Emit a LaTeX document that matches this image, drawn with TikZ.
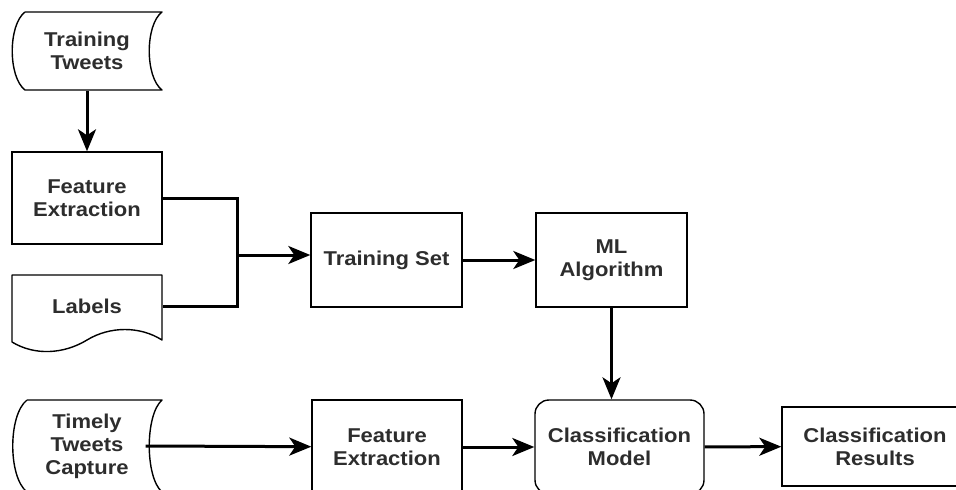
\documentclass[tikz,border=0pt]{standalone}
\usepackage{fontspec}
\setmainfont[FakeStretch=1.1]{Liberation Sans}
\usepackage{xcolor}
\usetikzlibrary{arrows.meta}
\usetikzlibrary{calc}
\definecolor{inkgray}{RGB}{45,45,45}
\tikzset{every edge/.style={draw, line width=3pt, -{Stealth[length=22pt,width=18pt,inset=6pt]}}}
\tikzset{blk/.style={draw, line width=1.4pt, minimum width=150pt, align=center, text=inkgray, font=\bfseries\fontsize{20}{23}\selectfont}}
\tikzset{bare/.style={blk, draw=none}}

\begin{document}
\begin{tikzpicture}[x=1pt, y=-1pt]
    \useasboundingbox (0,0) rectangle (956,490);
    \clip (0,0) rectangle (956,490);

    \node[bare, minimum height=78pt] at (87,51) (TT) {Training\\Tweets};
    \node[blk, minimum height=92pt] at (87,198) (FE1) {Feature\\Extraction};
    \node[bare, minimum height=62pt] at (87,306) (LB) {Labels};
    \node[blk, minimum width=151pt, minimum height=94pt] at (386.5,260) (TS) {Training Set};
    \node[blk, minimum width=151pt, minimum height=94pt] at (611.5,260) (ML) {ML\\Algorithm};
    \node[bare, minimum height=92pt] at (87,446) (TTC) {Timely\\Tweets\\Capture};
    \node[blk, minimum height=94pt] at (387,447) (FE2) {Feature\\Extraction};
    \node[blk, rounded corners=14pt, minimum width=169pt, minimum height=94pt] at (619.5,447) (CM) {Classification\\Model};
    \node[blk, minimum width=186pt, minimum height=79pt] at (875,446.5) (CR) {Classification\\Results};

    % stored data and document outlines
    \draw[line width=1.4pt, line join=round] (25,12) -- (162,12) .. controls (145,25) and (145,77) .. (162,90) -- (25,90) .. controls (8,77) and (8,25) .. (25,12);
    \draw[line width=1.4pt, line join=round] (27,400) -- (162,400) .. controls (145,415) and (145,477) .. (162,492) -- (27,492) .. controls (8,477) and (8,415) .. (27,400);
    \draw[line width=1.4pt, line join=round] (12,342) -- (12,275) -- (162,275) -- (162,340) .. controls (140,326) and (110,326) .. (87,340) .. controls (64,354) and (35,356) .. (12,342);

    \coordinate (J) at (237,255);
    \draw[line width=3pt] (FE1.east) -| (J) |- (LB.east);

    \draw (TT) edge (FE1);
    \draw (J) edge (J -| TS.west);
    \draw (TS) edge (ML);
    \draw (ML.south) edge (ML.south |- CM.north);
    \draw ([xshift=-17pt]TTC.east) edge (FE2);
    \draw (FE2) edge (CM);
    \draw (CM) edge (CR);
\end{tikzpicture}
\end{document}
